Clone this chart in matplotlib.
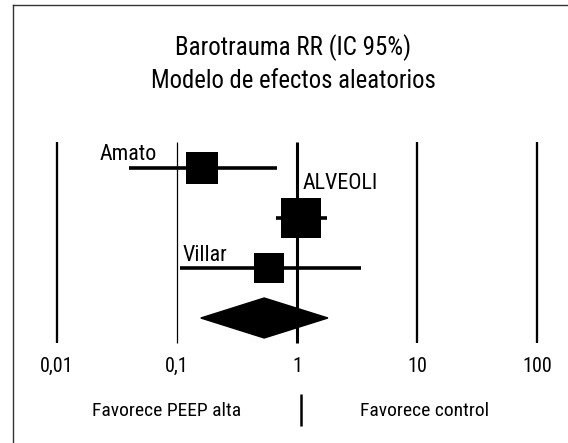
import matplotlib
matplotlib.use("Agg")
import matplotlib.pyplot as plt
from matplotlib import font_manager
from matplotlib.lines import Line2D
from matplotlib.patches import Polygon

# ---------------- data ----------------
studies = ["Amato", "ALVEOLI", "Villar"]
rr = [0.162, 1.08, 0.585]
ci_low = [0.040, 0.668, 0.106]
ci_high = [0.68, 1.78, 3.41]
weights = [0.78, 1.00, 0.75]          # relative study weights (square size)
pooled = [0.533, 0.158, 1.81]         # RR, lower, upper (random effects)
tick_values = [0.01, 0.1, 1, 10, 100]
tick_labels = ["0,01", "0,1", "1", "10", "100"]
title_lines = ["Barotrauma RR (IC 95%)", "Modelo de efectos aleatorios"]
side_labels = ["Favorece PEEP alta", "Favorece control"]

# ---------------- font ----------------
avail = {f.name for f in font_manager.fontManager.ttflist}
fam = "Liberation Sans"
for cand in ["Liberation Sans Narrow", "Arial Narrow", "Roboto Condensed",
             "DejaVu Sans Condensed", "Open Sans Condensed"]:
    if cand in avail:
        fam = cand
        break
plt.rcParams["font.family"] = [fam, "DejaVu Sans"]

W, H = 568, 443
fig = plt.figure(figsize=(W / 100, H / 100), dpi=100)
ax = fig.add_axes([0, 0, 1, 1])
ax.set_xscale("log")
ax.set_xlim(10 ** (-2 - 57 / 120), 10 ** (2 + 31 / 120))
ax.set_ylim(5.5, -3.36)
ax.axis("off")

# frame (left and top borders)
fig.add_artist(Line2D([12.5 / W, 12.5 / W], [0, 1 - 4.5 / H], color="#333333", lw=1.0,
                      transform=fig.transFigure))
fig.add_artist(Line2D([12.5 / W, 1], [1 - 4.5 / H, 1 - 4.5 / H], color="#333333", lw=1.0,
                      transform=fig.transFigure))

# title
fig.text(293 / W, 1 - 55 / H, title_lines[0], ha="center", va="baseline", fontsize=18)
fig.text(293 / W, 1 - 88 / H, title_lines[1], ha="center", va="baseline", fontsize=17.8)

# vertical reference lines
grid_lw = [1.65, 0.9, 2.2, 1.65, 1.65]
for v, lab, lw in zip(tick_values, tick_labels, grid_lw):
    ax.vlines(v, -0.52, 3.5, color="black", lw=lw, zorder=1)
    ax.text(v, 4.07, lab, ha="center", va="baseline", fontsize=14.5)

# studies
label_offsets = [(-45, 8, "right"), (2, 29, "left"), (-87, 7, "left")]
for i, (name, est, lo, hi, w) in enumerate(zip(studies, rr, ci_low, ci_high, weights)):
    ax.plot([lo, hi], [i, i], color="black", lw=2.6, solid_capstyle="butt", zorder=2)
    ax.plot([est], [i], marker="s", ms=28.8 * w, color="black", mec="black", mew=0,
            zorder=3)
    dx, dy, ha = label_offsets[i]
    ax.annotate(name, (est, i), xytext=(dx, dy), textcoords="offset pixels",
                ha=ha, va="baseline", fontsize=15.8)

# pooled diamond
row = len(studies)
est, lo, hi = pooled
ax.add_patch(Polygon([(lo, row), (est, row - 0.4), (hi, row), (est, row + 0.4)],
                     closed=True, color="black", zorder=3))

# bottom labels
ax.text(10 ** ((167 - 297) / 120), 4.96, side_labels[0], ha="center", va="baseline",
        fontsize=14)
ax.text(10 ** ((424.5 - 297) / 120), 4.96, side_labels[1], ha="center", va="baseline",
        fontsize=14)
ax.vlines(10 ** (4 / 120), 4.52, 5.16, color="black", lw=1.8)

fig.savefig("out.png", dpi=100)
